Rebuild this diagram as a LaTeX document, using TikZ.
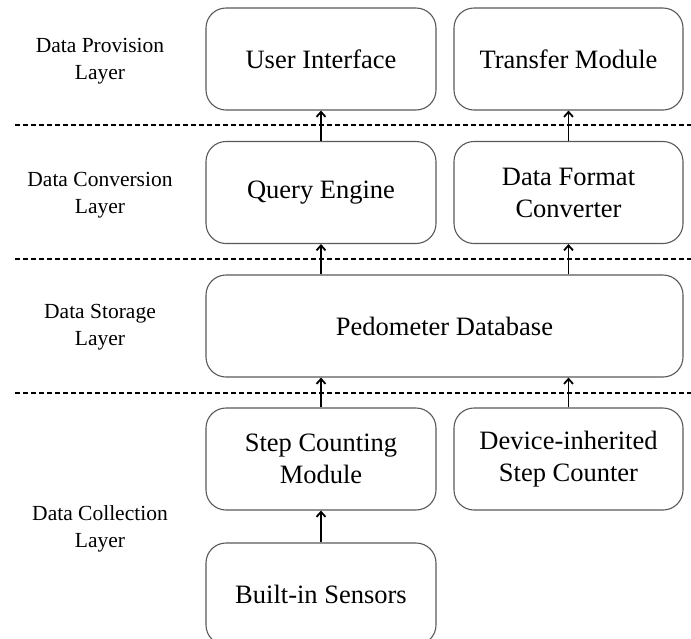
\documentclass[tikz,border=0pt]{standalone}
\usepackage{fontspec}
\setmainfont{Liberation Serif}
\usetikzlibrary{arrows.meta}
\tikzset{
  block/.style={draw=black!65,line width=1.1pt,rounded corners=20pt,
    minimum height=102pt,align=center,inner sep=2pt,
    font=\fontsize{26.5}{32}\selectfont},
  layer/.style={align=center,font=\fontsize{21.5}{27}\selectfont},
  sep/.style={line width=1.8pt,dash pattern=on 5pt off 3pt},
  flow/.style={line width=1.8pt,-{Straight Barb[length=5pt,width=9pt]}}
}
\begin{document}
\begin{tikzpicture}[x=1pt,y=-1pt]
            \path[use as bounding box,clip] (0,0) rectangle (691,638);

            \node[block,minimum width=230pt] (ui) at (321,59) {User Interface};
            \node[block,minimum width=229pt] (tm) at (568.5,59) {Transfer Module};
            \node[block,minimum width=230pt] (qe) at (321,192.5) {Query Engine};
            \node[block,minimum width=229pt] (dfc) at (568.5,192.5) {Data Format\\Converter};
            \node[block,minimum width=477pt] (pd) at (444.5,326) {Pedometer Database};
            \node[block,minimum width=230pt] (scm) at (321,459) {Step Counting\\Module};
            \node[block,minimum width=229pt] (dsc) at (568.5,459) {Device-inherited\\Step Counter};
            \node[block,minimum width=230pt] (bis) at (321,594) {Built-in Sensors};

            \node[layer] (l1) at (100,61) {Data Provision\\Layer};
            \node[layer] (l2) at (100,195) {Data Conversion\\Layer};
            \node[layer] (l3) at (100,327) {Data Storage\\Layer};
            \node[layer] (l4) at (100,529) {Data Collection\\Layer};

            \draw[sep] (15,125) -- (691,125);
            \draw[sep] (15,259) -- (691,259);
            \draw[sep] (15,393) -- (691,393);

            \draw[flow] (qe.north) -- (ui.south);
            \draw[flow] (dfc.north) -- (tm.south);
            \draw[flow] (qe.south |- pd.north) -- (qe.south);
            \draw[flow] (dfc.south |- pd.north) -- (dfc.south);
            \draw[flow] (scm.north) -- (scm.north |- pd.south);
            \draw[flow] (dsc.north) -- (dsc.north |- pd.south);
            \draw[flow] (bis.north) -- (scm.south);
\end{tikzpicture}
\end{document}
